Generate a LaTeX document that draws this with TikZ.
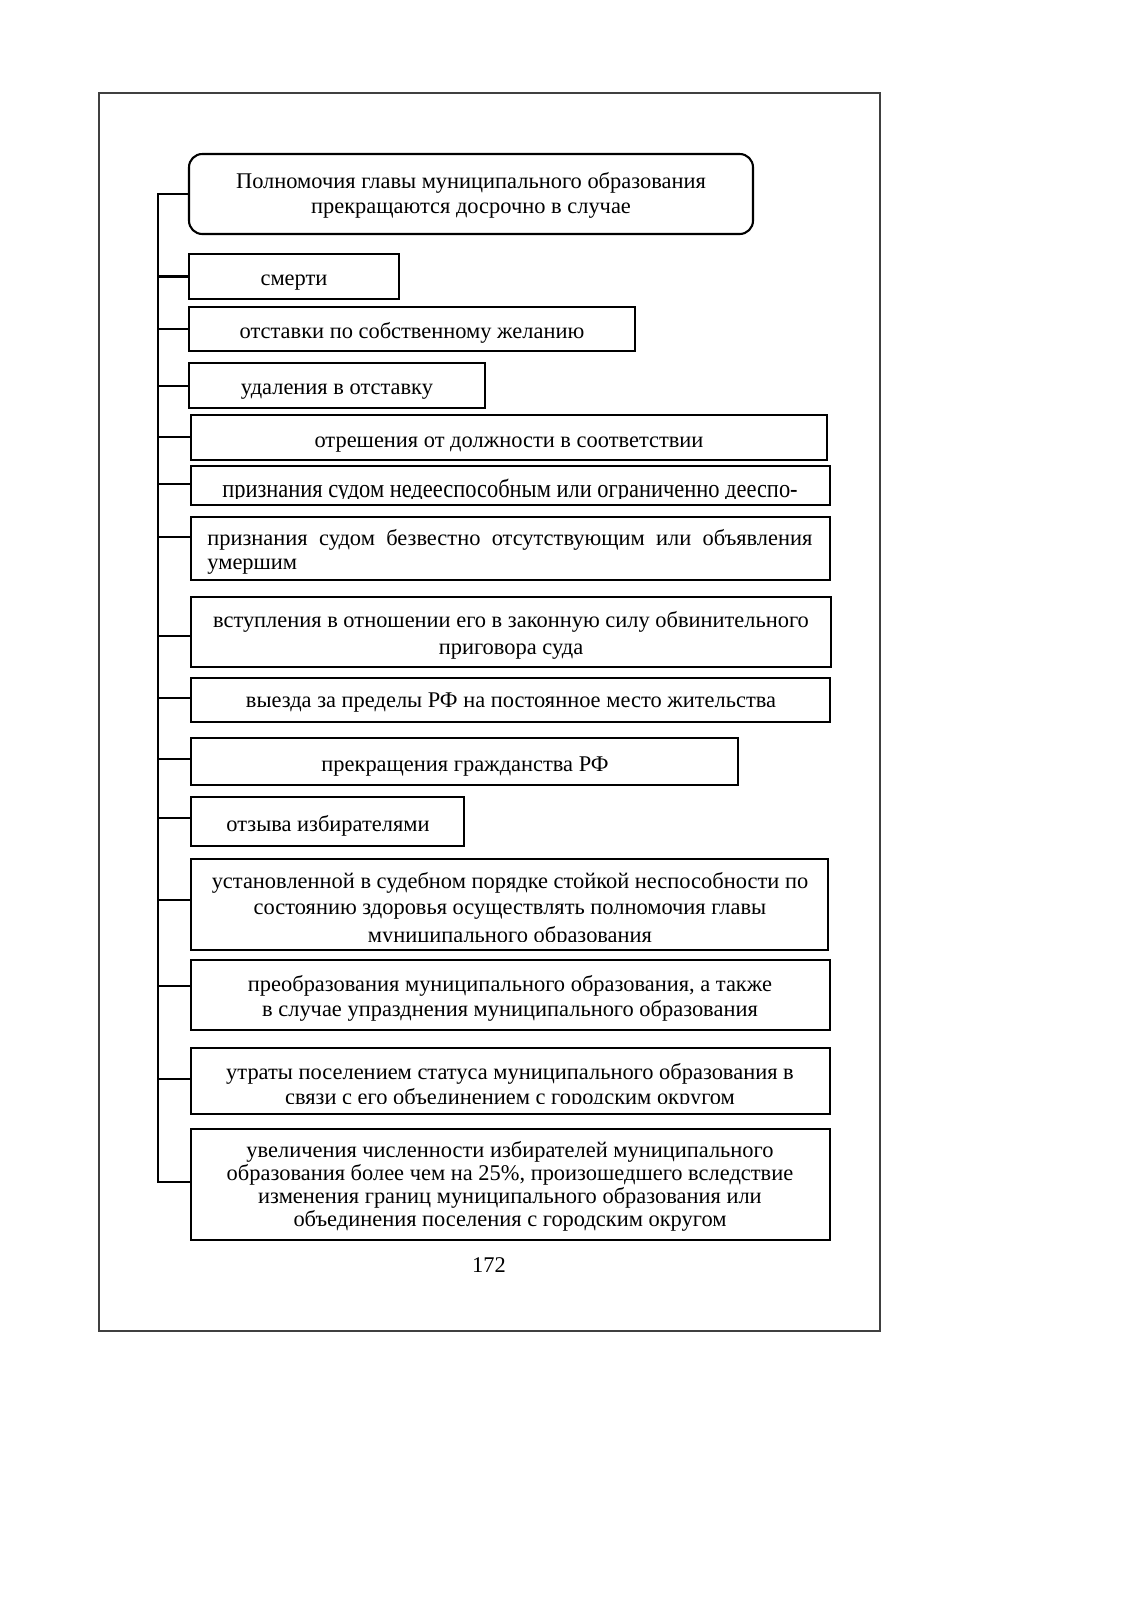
\documentclass[tikz,border=0pt]{standalone}
\usepackage{fontspec}
\setmainfont{Liberation Serif}
\usetikzlibrary{fit,calc}
\begin{document}
\begin{tikzpicture}[x=0.5259pt,y=-0.5259pt,
  box/.style={draw, line width=1.1pt, inner sep=0pt, rectangle},
  headbox/.style={box, rounded corners=7pt},
  lbl/.style={inner sep=0pt, anchor=base, font=\fontsize{11.8}{13.7}\selectfont},
  lblw/.style={lbl, anchor=base west},
  conn/.style={line width=1.1pt},
  frm/.style={draw=black!75, line width=0.6pt, inner sep=0pt}]
\fill[white] (0,0) rectangle (1132,1600);
\useasboundingbox (0,0) rectangle (1132,1600);
\node[frm, fit={(99,93) (880,1331)}] (frame) {};
% boxes
\node[headbox, fit={(189,154) (753,234)}] (head) {};
\node[box, fit={(189,254) (399,299)}] (b1) {};
\node[box, fit={(189,307) (635,351)}] (b2) {};
\node[box, fit={(189,363) (485,408)}] (b3) {};
\node[box, fit={(191,415) (827,460)}] (b4) {};
\node[box, fit={(191,466) (830,505)}] (b5) {};
\node[box, fit={(191,517) (830,580)}] (b6) {};
\node[box, fit={(191,597) (831,667)}] (b7) {};
\node[box, fit={(191,678) (830,722)}] (b8) {};
\node[box, fit={(191,738) (738,785)}] (b9) {};
\node[box, fit={(191,797) (464,846)}] (b10) {};
\node[box, fit={(191,859) (828,950)}] (b11) {};
\node[box, fit={(191,960) (830,1030)}] (b12) {};
\node[box, fit={(191,1048) (830,1114)}] (b13) {};
\node[box, fit={(191,1129) (830,1240)}] (b14) {};
% texts
\node[lbl] (h1) at (471,188) {Полномочия главы муниципального образования};
\node[lbl] (h2) at (471,213) {прекращаются досрочно в случае};
\node[lbl] (t1) at (294,285) {смерти};
\node[lbl] (t2) at (412,338) {отставки по собственному желанию};
\node[lbl] (t3) at (337,394) {удаления в отставку};
\node[lbl] (t4) at (509,447) {отрешения от должности в соответствии};
\begin{scope}
\clip ($(b5.north west)+(0,1)$) rectangle ($(b5.east |- 0,498)$);
\node[lbl] (t5) at (510,497) {\scalebox{1}[1.15]{признания судом недееспособным или ограниченно дееспо-}};
\end{scope}
\node[lblw] (t6a) at (207,545) {\makebox[318.2pt][s]{признания судом безвестно отсутствующим или объявления}};
\node[lblw] (t6b) at (207,569) {умершим};
\node[lbl] (t7a) at (511,627) {вступления в отношении его в законную силу обвинительного};
\node[lbl] (t7b) at (511,654) {приговора суда};
\node[lbl] (t8) at (511,707) {выезда за пределы РФ на постоянное место жительства};
\node[lbl] (t9) at (465,771) {прекращения гражданства РФ};
\node[lbl] (t10) at (328,831) {отзыва избирателями};
\begin{scope}
\clip (b11.north west) rectangle ($(b11.east |- 0,941)$);
\node[lbl] (t11a) at (510,888) {установленной в судебном порядке стойкой неспособности по};
\node[lbl] (t11b) at (510,914) {состоянию здоровья осуществлять полномочия главы};
\node[lbl] (t11c) at (510,942) {муниципального образования};
\end{scope}
\node[lbl] (t12a) at (510,991) {преобразования муниципального образования, а также};
\node[lbl] (t12b) at (510,1016) {в случае упразднения муниципального образования};
\begin{scope}
\clip (b13.north west) rectangle ($(b13.east |- 0,1103)$);
\node[lbl] (t13a) at (510,1079) {утраты поселением статуса муниципального образования в};
\node[lbl] (t13b) at (510,1104) {связи с его объединением с городским округом};
\end{scope}
\node[lbl] (t14a) at (510,1157) {увеличения численности избирателей муниципального};
\node[lbl] (t14b) at (510,1180) {образования более чем на 25\%, произошедшего вследствие};
\node[lbl] (t14c) at (510,1203) {изменения границ муниципального образования или};
\node[lbl] (t14d) at (510,1226) {объединения поселения с городским округом};
\node[lbl] (pg) at (489,1272) {172};
% connectors
\coordinate (tk) at (158,0);
\foreach \n/\f in {1/0.5,2/0.5,3/0.51,4/0.49,5/0.46,6/0.32,7/0.56,8/0.45,9/0.45,10/0.44,11/0.45,12/0.37,13/0.47,14/0.48}{
  \coordinate (p\n) at ($(b\n.north west)!\f!(b\n.south west)$);
}
\draw[conn] (head.west) -- (tk |- head.west) -- (tk |- p14) -- (p14);
\foreach \n in {1,...,13}{
  \draw[conn] (tk |- p\n) -- (p\n);
}
\end{tikzpicture}
\end{document}
